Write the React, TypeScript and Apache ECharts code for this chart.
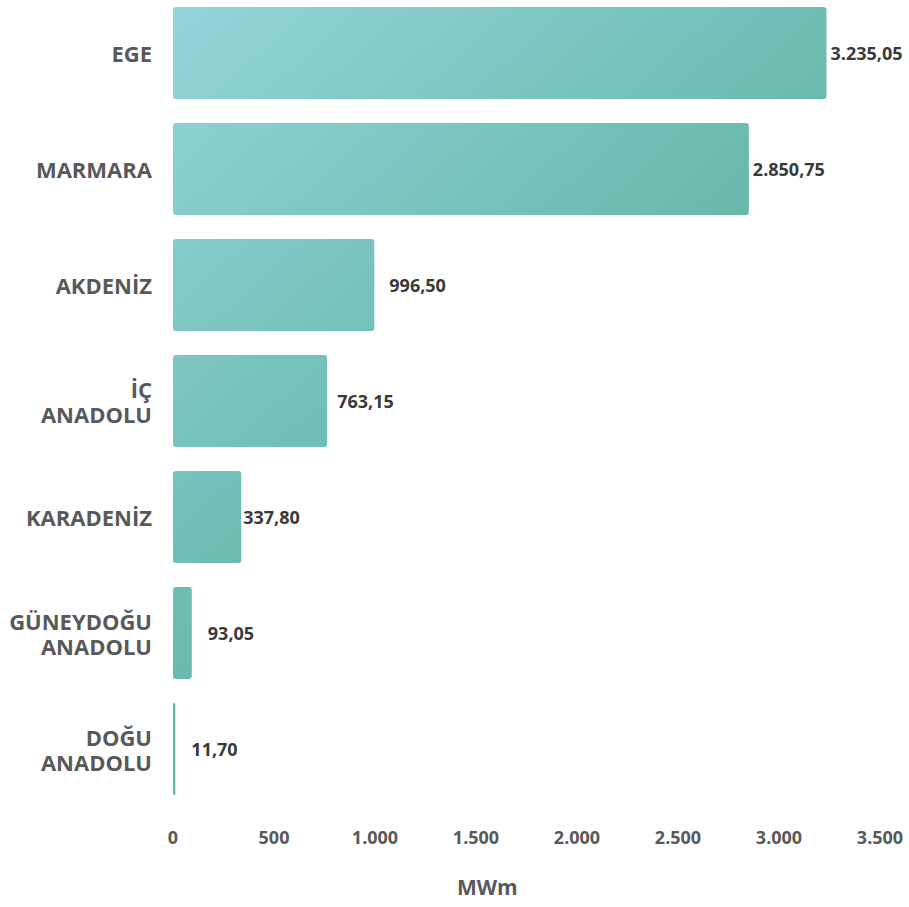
import React, { useEffect, useRef } from "react";
import * as echarts from "echarts";

const categories = [
  "EGE",
  "MARMARA",
  "AKDENİZ",
  "İÇ\nANADOLU",
  "KARADENİZ",
  "GÜNEYDOĞU\nANADOLU",
  "DOĞU\nANADOLU",
];
const values = [3235.05, 2850.75, 996.5, 763.15, 337.8, 93.05, 11.7];
const axisTicks = [0, 500, 1000, 1500, 2000, 2500, 3000, 3500];
const axisName = "MWm";
// styling: gap between each bar end and its value label
const labelGaps = [4, 4, 15, 10, 2, 16, 16];

function fmt(v: number, decimals: number): string {
  const fixed = v.toFixed(decimals);
  const [intPart, dec] = fixed.split(".");
  const withDots = intPart.replace(/\B(?=(\d{3})+(?!\d))/g, ".");
  return dec ? withDots + "," + dec : withDots;
}

export default function App() {
  const ref = useRef<HTMLDivElement>(null);
  useEffect(() => {
    if (!ref.current) return;
    const chart = echarts.init(ref.current, undefined, { renderer: "svg" });
    const font = "'Open Sans', 'Noto Sans', sans-serif";
    const gradient = new echarts.graphic.LinearGradient(
      173,
      0,
      880,
      800,
      [
        { offset: 0, color: "#93d5db" },
        { offset: 0.5, color: "#69b8ac" },
        { offset: 1, color: "#5cb0a2" },
      ],
      true
    );
    chart.setOption({
      animation: false,
      backgroundColor: "#ffffff",
      grid: { left: 173, right: 29, top: 0, bottom: 100, containLabel: false },
      xAxis: {
        type: "value",
        min: axisTicks[0],
        max: axisTicks[axisTicks.length - 1],
        interval: axisTicks[1] - axisTicks[0],
        axisLine: { show: false },
        axisTick: { show: false },
        splitLine: { show: false },
        axisLabel: {
          margin: 21,
          fontFamily: font,
          fontWeight: "bold",
          fontSize: 18,
          color: "#595959",
          formatter: (v: number) => fmt(v, 0),
        },
      },
      yAxis: {
        type: "category",
        data: categories,
        inverse: true,
        axisLine: { show: false },
        axisTick: { show: false },
        splitLine: { show: false },
        axisLabel: {
          margin: 21,
          fontFamily: font,
          fontWeight: "bold",
          fontSize: 22,
          lineHeight: 25,
          color: "#595959",
          align: "right",
        },
      },
      graphic: [
        {
          type: "text",
          left: 457,
          top: 881,
          style: {
            text: axisName,
            fontFamily: font,
            fontWeight: "bold",
            fontSize: 21,
            fill: "#595959",
          },
        },
      ],
      series: [
        {
          type: "bar",
          barWidth: 92,
          data: values.map((v, i) => ({
            value: v,
            label: { distance: labelGaps[i] },
          })),
          itemStyle: { color: gradient, borderRadius: 3 },
          label: {
            show: true,
            position: "right",
            fontFamily: font,
            fontWeight: "bold",
            fontSize: 18,
            color: "#3a3a3a",
            formatter: (p: any) => fmt(p.value, 2),
          },
        },
      ],
    });
    return () => chart.dispose();
  }, []);
  return (
    <div
      ref={ref}
      style={{ position: "absolute", left: 0, top: -5, width: 909, height: 912 }}
    />
  );
}
